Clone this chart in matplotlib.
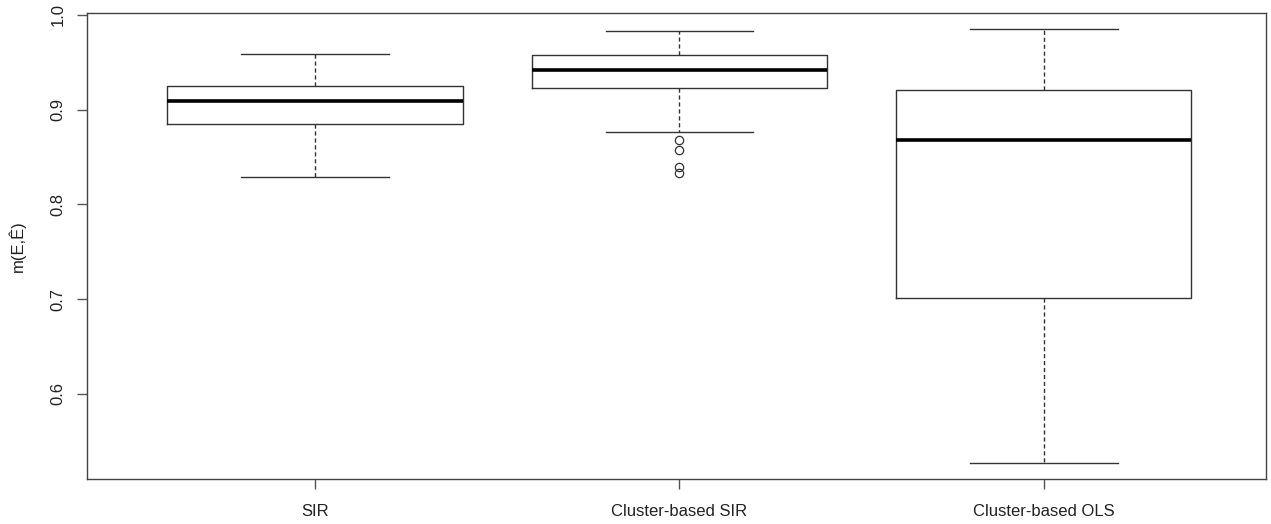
import matplotlib
matplotlib.use("Agg")
import matplotlib.pyplot as plt

plt.rcParams['font.family'] = ['Liberation Sans', 'DejaVu Sans']

# data
categories = ["SIR", "Cluster-based SIR", "Cluster-based OLS"]
whisker_low = [0.8286, 0.8762, 0.527]
q1 = [0.8847, 0.9228, 0.7016]
median = [0.909, 0.9418, 0.8677]
q3 = [0.9249, 0.9577, 0.9206]
whisker_high = [0.9587, 0.983, 0.985]
outliers = [[], [0.8677, 0.8579, 0.8395, 0.8331], []]

stats = []
for i, name in enumerate(categories):
    stats.append({
        'label': name,
        'whislo': whisker_low[i], 'q1': q1[i], 'med': median[i],
        'q3': q3[i], 'whishi': whisker_high[i], 'fliers': outliers[i],
    })

fig = plt.figure(figsize=(12.71, 5.24), dpi=100)
ax = fig.add_axes([0.0681, 0.0859, 0.928, 0.889])

line_col = '#333333'
ax.bxp(stats, positions=[1, 2, 3], widths=0.81,
       boxprops=dict(color=line_col, lw=1.0),
       medianprops=dict(color='black', lw=2.6, solid_capstyle='butt'),
       whiskerprops=dict(color=line_col, lw=1.0, ls=(0, (3, 2))),
       capprops=dict(color=line_col, lw=1.0),
       capwidths=0.405,
       flierprops=dict(marker='o', markerfacecolor='none',
                       markeredgecolor=line_col, markersize=6, markeredgewidth=0.9))

ax.set_xlim(0.373, 3.61)
ax.set_ylim(0.5102, 1.0018)
ax.set_yticks([0.6, 0.7, 0.8, 0.9, 1.0])
ax.set_yticklabels(['0.6', '0.7', '0.8', '0.9', '1.0'], rotation=90, va='center')
ax.set_xticks([1, 2, 3])
ax.set_xticklabels(categories)
ax.tick_params(axis='both', length=7.2, width=1.0, color='#555555', labelsize=12,
               labelcolor='#222222')
ax.tick_params(axis='y', pad=8)
ax.tick_params(axis='x', pad=10.5)
for sp in ax.spines.values():
    sp.set_color('#444444')
    sp.set_linewidth(1.0)

ax.set_ylabel('m(E,Ê)', fontsize=12, color='#222222', labelpad=18)

fig.savefig('out.png', dpi=100)
